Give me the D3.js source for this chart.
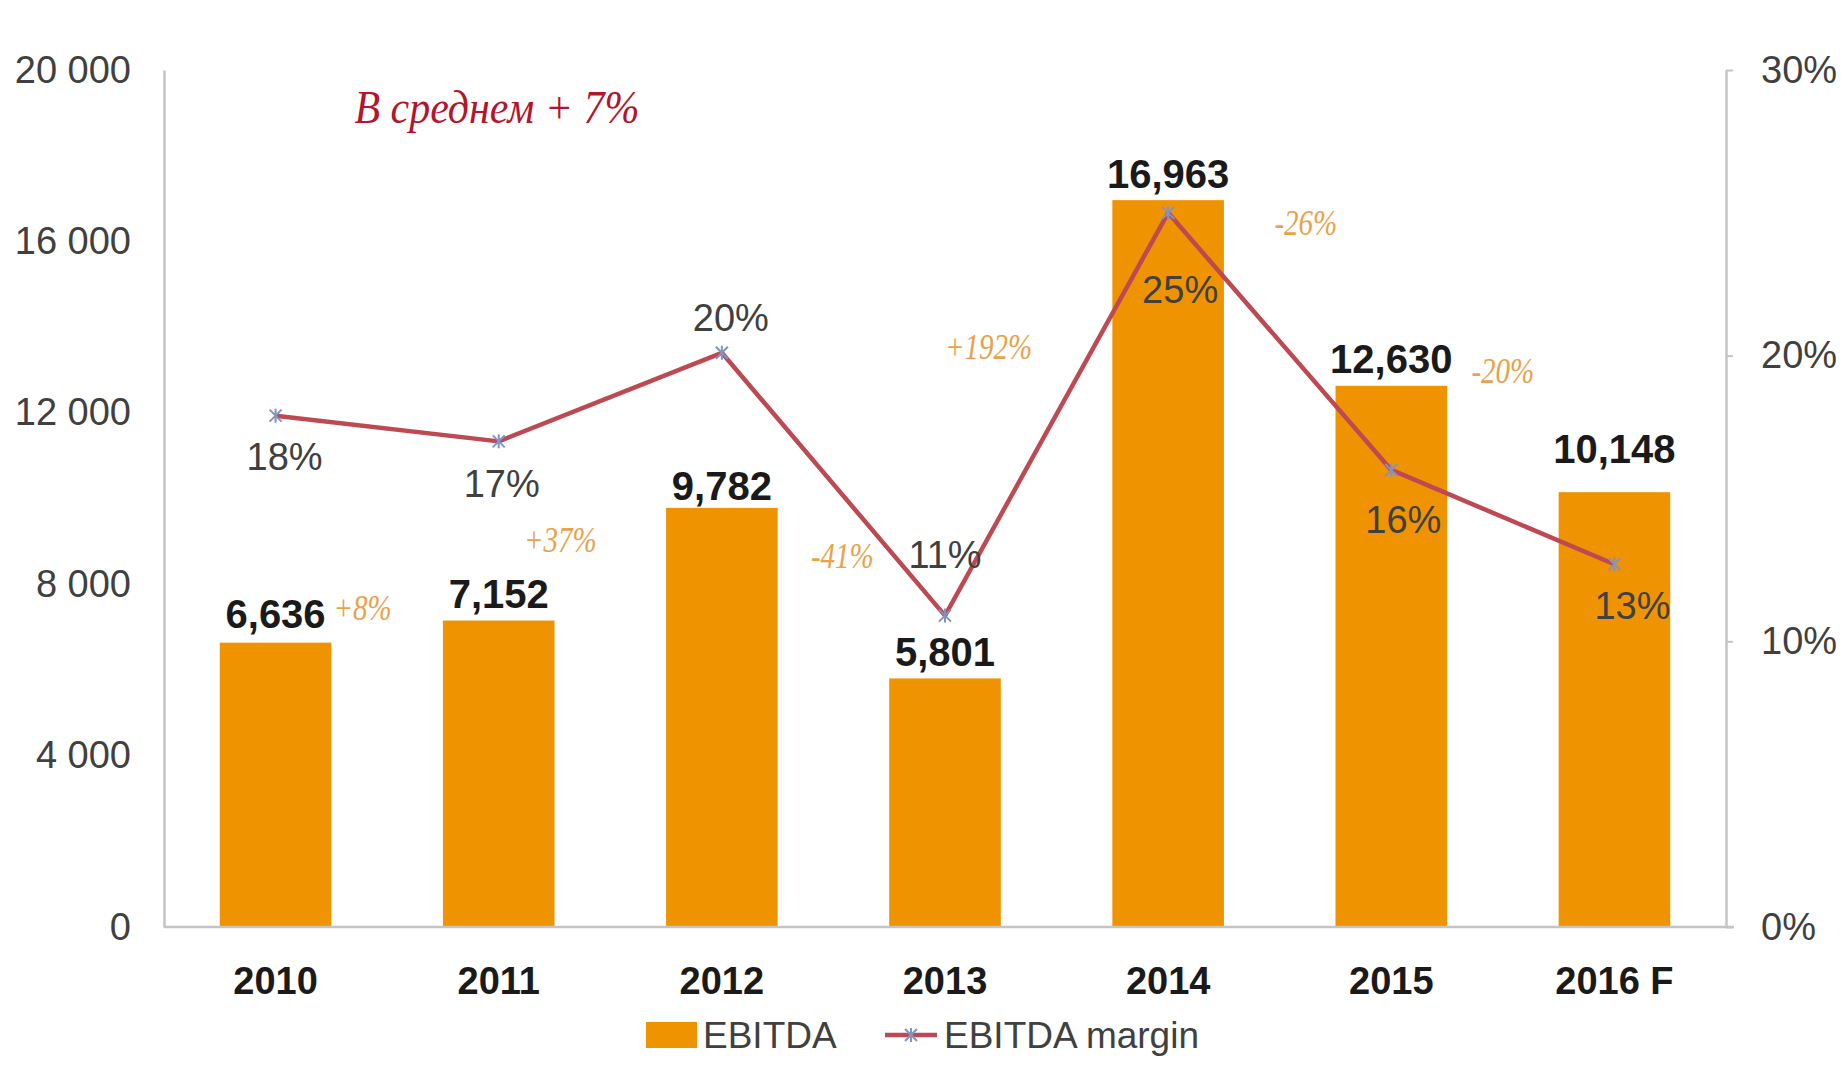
<!DOCTYPE html>
<html><head><meta charset="utf-8">
<script src="https://cdn.jsdelivr.net/npm/d3@7"></script>
<style>body{margin:0;background:#fff}</style>
</head><body><svg id="c" width="1841" height="1074"></svg>
<script>
const categories = ["2010","2011","2012","2013","2014","2015","2016 F"];
const ebitda = [6636,7152,9782,5801,16963,12630,10148];
const marginPct = [17.9,17.0,20.1,10.9,25.0,16.0,12.7];
const growthLabels = ["+8%","+37%","-41%","+192%","-26%","-20%"];
const leftTicks = [0,4000,8000,12000,16000,20000];
const rightTicks = [0,10,20,30];
const titleText = "В среднем + 7%";
const legendLabels = ["EBITDA","EBITDA margin"];

// layout (not data)
const W = 1841, H = 1074;
const L = 164, R = 1726, T = 70, B = 927;
const barLabelGap = [29,27,22,26,26,27,43];
const marginLabelOff = [[9,41],[3,42],[9,-35],[0,-61],[12,77],[12,50],[18,41]];
const growthPos = [[0.39,7459],[1.276,9044],[2.54,8671],[3.195,13543],[4.617,16434],[5.5,12984]];

const SANS = "'Liberation Sans', Arial, sans-serif";
const SERIF = "'Liberation Serif', 'Times New Roman', serif";
const ORANGE = "#f09300", LINE = "#bd4a53", MARK = "#8294c4", GREY = "#c4c4c4", TXT = "#404040";

const svg = d3.select("#c");
svg.append("rect").attr("width",W).attr("height",H).attr("fill","#fff");

const x = d3.scaleBand().domain(categories).range([L,R]).paddingInner(0.5).paddingOuter(0.25);
const y = d3.scaleLinear().domain([0,20000]).range([B,T]);
const y2 = d3.scaleLinear().domain([0,30]).range([B,T]);
const cx = i => x(categories[i]) + x.bandwidth()/2;

// bars
svg.append("g").selectAll("rect").data(ebitda).join("rect")
  .attr("x",(d,i)=>x(categories[i])).attr("width",x.bandwidth())
  .attr("y",d=>y(d)).attr("height",d=>B-y(d)).attr("fill",ORANGE);

// axes
const ax = svg.append("g").attr("transform",`translate(${L},0)`)
  .call(d3.axisLeft(y).tickValues(leftTicks).tickSize(0).tickSizeOuter(0).tickPadding(33)
    .tickFormat(d=>d3.format(",")(d).replace(/,/g," ")));
const ax2 = svg.append("g").attr("transform",`translate(${R},0)`)
  .call(d3.axisRight(y2).tickValues(rightTicks).tickSize(7).tickSizeOuter(0).tickPadding(28)
    .tickFormat(d=>d+"%"));
const axb = svg.append("g").attr("transform",`translate(0,${B})`)
  .call(d3.axisBottom(x).tickSize(0).tickSizeOuter(0).tickPadding(40));
[ax,ax2,axb].forEach(g=>{
  g.select(".domain").attr("stroke",GREY).attr("stroke-width",2.5);
  g.selectAll(".tick line").attr("stroke",GREY).attr("stroke-width",2);
  g.selectAll("text").attr("font-family",SANS).attr("font-size",38).attr("fill",TXT);
});
axb.selectAll("text").attr("font-weight","bold").attr("fill","#1a1a1a");
axb.select(".domain").attr("d",`M${L},0H${R+8}`);

// line
const line = d3.line().x((d,i)=>cx(i)).y(d=>y2(d));
svg.append("path").datum(marginPct).attr("d",line).attr("fill","none")
  .attr("stroke",LINE).attr("stroke-width",4.5).attr("stroke-linejoin","round");
const star = "M-6,-6L6,6M-6,6L6,-6M0,-7L0,7";
svg.append("g").selectAll("path").data(marginPct).join("path")
  .attr("transform",(d,i)=>`translate(${cx(i)},${y2(d)})`).attr("d",star)
  .attr("stroke",MARK).attr("stroke-width",2).attr("fill","none");

// bar value labels
svg.append("g").selectAll("text").data(ebitda).join("text")
  .attr("x",(d,i)=>cx(i)).attr("y",(d,i)=>y(d)-barLabelGap[i])
  .attr("dy","0.35em").attr("text-anchor","middle")
  .attr("font-family",SANS).attr("font-weight","bold").attr("font-size",40).attr("fill","#1a1a1a")
  .text(d=>d3.format(",")(d));

// margin labels
svg.append("g").selectAll("text").data(marginPct).join("text")
  .attr("x",(d,i)=>cx(i)+marginLabelOff[i][0]).attr("y",(d,i)=>y2(d)+marginLabelOff[i][1])
  .attr("dy","0.35em").attr("text-anchor","middle")
  .attr("font-family",SANS).attr("font-size",38).attr("fill",TXT)
  .text(d=>Math.round(d)+"%");

// growth labels
svg.append("g").selectAll("text").data(growthLabels).join("text")
  .attr("transform",(d,i)=>`translate(${cx(0)+growthPos[i][0]*x.step()},${y(growthPos[i][1])}) scale(1,1.22)`)
  .attr("dy","0.35em").attr("text-anchor","middle")
  .attr("font-family",SERIF).attr("font-style","italic").attr("font-size",29).attr("fill","#e8a24a")
  .text(d=>d);

// title
svg.append("text").attr("transform",`translate(497,123) scale(1,1.12)`)
  .attr("text-anchor","middle").attr("font-family",SERIF).attr("font-style","italic")
  .attr("font-size",42).attr("fill","#b3162b").text(titleText);

// legend
const lg = svg.append("g");
lg.append("rect").attr("x",646).attr("y",1022).attr("width",51).attr("height",26).attr("fill",ORANGE);
lg.append("text").attr("x",703).attr("y",1035).attr("dy","0.35em")
  .attr("font-family",SANS).attr("font-size",37).attr("fill",TXT).text(legendLabels[0]);
lg.append("line").attr("x1",885).attr("x2",937).attr("y1",1035).attr("y2",1035)
  .attr("stroke",LINE).attr("stroke-width",4.5);
lg.append("path").attr("transform","translate(911,1035)").attr("d",star)
  .attr("stroke",MARK).attr("stroke-width",2).attr("fill","none");
lg.append("text").attr("x",944).attr("y",1035).attr("dy","0.35em")
  .attr("font-family",SANS).attr("font-size",37).attr("fill",TXT).text(legendLabels[1]);
</script></body></html>
